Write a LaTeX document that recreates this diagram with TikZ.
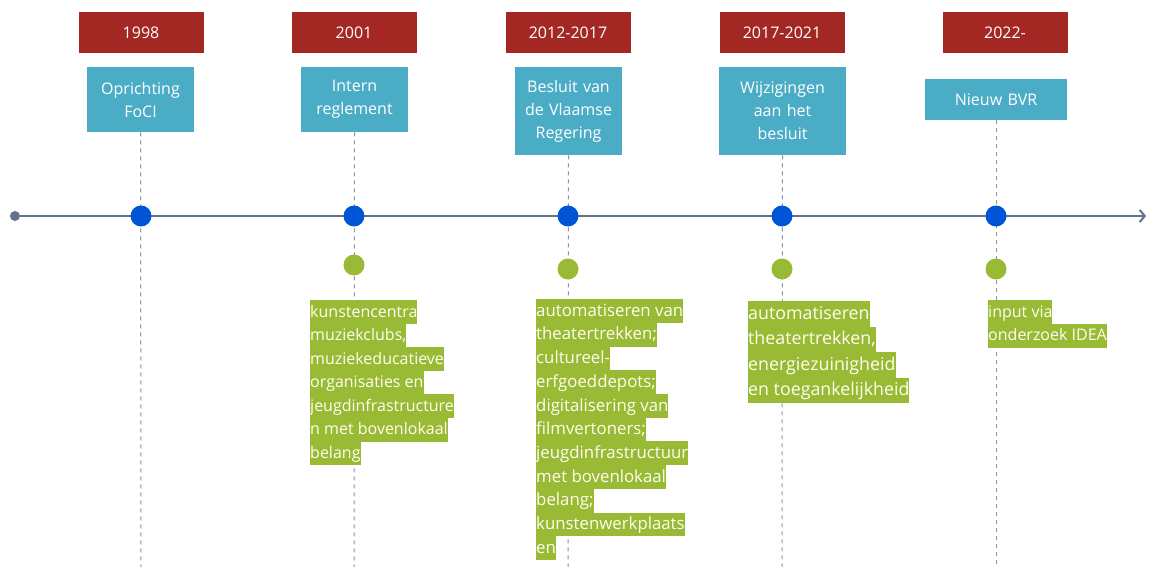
\documentclass[tikz,border=0pt]{standalone}
\usepackage{fontspec}
\setmainfont{Open Sans}
\definecolor{rood}{RGB}{163,40,35}
\definecolor{blauw}{RGB}{75,172,198}
\definecolor{groen}{RGB}{152,186,52}
\definecolor{stip}{RGB}{0,84,214}
\definecolor{lijn}{RGB}{98,112,138}
\definecolor{streep}{RGB}{128,146,176}
\usetikzlibrary{arrows.meta,positioning,calc}

\begin{document}
\begin{tikzpicture}[x=1pt,y=-1pt,
    jaar/.style={fill=rood,text=white,minimum width=125pt,minimum height=41pt,
      inner sep=0pt,font=\fontsize{16}{20}\selectfont},
    fase/.style={fill=blauw,text=white,align=center,inner sep=0pt,anchor=north,
      font=\fontsize{16}{23}\selectfont},
    punt/.style={circle,fill=stip,minimum size=21pt,inner sep=0pt},
    bol/.style={circle,fill=groen,minimum size=21pt,inner sep=0pt},
    regel/.style={fill=groen,text=white!94!yellow,anchor=north west,inner xsep=0pt,
      inner ysep=0pt,text height=17pt,text depth=6.8pt,font=\fontsize{16}{20}\selectfont},
    stippel/.style={streep,line width=1pt,dash pattern=on 4pt off 4pt}]
  \useasboundingbox (0,0) rectangle (1149,567);

  % jaartallen
  \foreach \x/\j [count=\i] in {141/1998,354/2001,568/2012-2017,782/2017-2021,1005/2022-}
    \node[jaar] (j\i) at (\x,32.5) {\j};

  % fasen
  \node[fase,text width=107pt,minimum height=65pt] (f1) at (140.5,67) {Oprichting\\FoCI};
  \node[fase,text width=107pt,minimum height=65pt] (f2) at (354.5,67) {Intern\\reglement};
  \node[fase,text width=107pt,minimum height=88pt] (f3) at (568.5,67) {Besluit van\\de Vlaamse\\Regering};
  \node[fase,text width=127pt,minimum height=88pt] (f4) at (782.5,67) {Wijzigingen\\aan het\\besluit};
  \node[fase,text width=142pt,minimum height=41pt] (f5) at (996,79) {Nieuw BVR};

  % stippellijnen
  \foreach \x [count=\i] in {141,354,568,782,996} {
    \coordinate (o\i) at (\x,567);
    \draw[stippel] (f\i.south) -- (o\i);
  }

  % tijdlijn
  \node[circle,fill=lijn,minimum size=10pt,inner sep=0pt] (start) at (15,216) {};
  \coordinate (eind) at (1146,216);
  \draw[lijn,line width=2pt,-{Straight Barb[length=5pt,width=12pt,line width=2pt]}] (start) -- (eind);
  \foreach \x [count=\i] in {141,354,568,782,996}
    \node[punt] (p\i) at (\x,216) {};

  % groene bollen
  \node[bol] (b2) at (354,265) {};
  \foreach \x [count=\i from 3] in {568,782,996}
    \node[bol] (b\i) at (\x,269) {};

  % toelichting
  \foreach \t [count=\i] in {kunstencentra,{muziekclubs,},muziekeducatieve\hspace{4pt},
      organisaties en\hspace{3pt},jeugdinfrastructure,n met bovenlokaal\hspace{8pt},belang}
    \node[regel] (t2-\i) at (310,{300+23.5*(\i-1)}) {\t};
  \foreach \t [count=\i] in {automatiseren van,theatertrekken;,cultureel-,erfgoeddepots;,
      digitalisering van,filmvertoners;,jeugdinfrastructuur,met bovenlokaal,belang;,
      kunstenwerkplaats,en}
    \node[regel,font=\fontsize{16.8}{20}\selectfont] (t3-\i) at (536,{299+23.7*(\i-1)}) {\t};
  \foreach \t [count=\i] in {automatiseren\hspace{4pt},{theatertrekken,},energiezuinigheid\hspace{4pt},
      en toegankelijkheid}
    \node[regel,text height=18pt,text depth=7.5pt,font=\fontsize{17.8}{22}\selectfont]
      (t4-\i) at (748,{301+25.5*(\i-1)}) {\t};
  \foreach \t [count=\i] in {input via,onderzoek IDEA}
    \node[regel] (t5-\i) at (988,{300+23.5*(\i-1)}) {\t};
\end{tikzpicture}
\end{document}
